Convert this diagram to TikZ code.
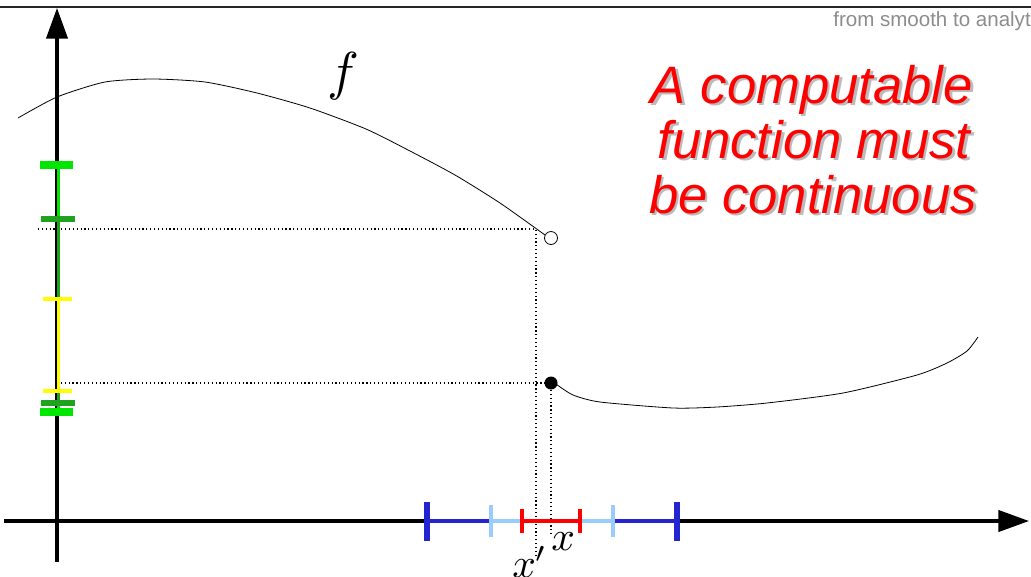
\documentclass[tikz,border=0pt]{standalone}
\usepackage{graphicx}
\usepackage{fontspec}
\newfontfamily\arialf{Liberation Sans}
\usetikzlibrary{arrows.meta}
\definecolor{brgreen}{HTML}{00E600}
\definecolor{dkgreen}{HTML}{1FA31F}
\definecolor{yel}{HTML}{FFFF00}
\definecolor{dkblue}{HTML}{2424D0}
\definecolor{ltblue}{HTML}{99CCFF}
\definecolor{shadowgrey}{HTML}{BBBBBB}
\tikzset{
  axisline/.style={line width=2.3pt, -{Triangle[length=23pt,width=16pt]}},
  fcurve/.style={line width=0.6pt},
  guide/.style={dotted, line width=0.9pt},
  bigtxt/.style={font=\arialf\itshape\fontsize{39.5}{41}\selectfont, anchor=base, inner sep=0},
  lbl/.style={inner sep=0, anchor=base west},
}
\newcommand{\shadowtext}[3]{%
  \node[bigtxt, text=shadowgrey] at ([xshift=2pt,yshift=-2pt]#1) {#3};
  \node[bigtxt, text=red] (#2) at (#1) {#3};}
\begin{document}
\begin{tikzpicture}[x=0.75pt,y=-0.75pt]
\useasboundingbox (0,0) rectangle (1031,576);

% header
\draw[line width=1.1pt, black!85] (0,7) -- (1031,7);
\node[inner sep=0, anchor=base east, text=black!45, font=\arialf\fontsize{15.4}{18}\selectfont] (hdr) at (1031,26) {from smooth to analyt};

% axes
\coordinate (yb) at (57,562);
\coordinate (yt) at (57,8);
\coordinate (xl) at (4,521);
\coordinate (xr) at (1029,521);
\draw[axisline] (yb) -- (yt);
\draw[axisline] (xl) -- (xr);

% dotted guides
\coordinate (g1a) at (38,229);
\coordinate (g1b) at (536,229);
\coordinate (g1c) at (536,558);
\coordinate (g2a) at (57,383);
\coordinate (g2b) at (545,383);
\coordinate (g2c) at (551,390);
\coordinate (g2d) at (551,536);
\draw[guide] (g1a) -- (g1b) -- (g1c);
\draw[guide] (g2a) -- (g2b);
\draw[guide] (g2c) -- (g2d);

% function f
\draw[fcurve] plot[smooth, tension=0.4] coordinates {(18,118) (57,97) (105,82) (153,79) (205,82) (257,93) (310,108) (366,129) (410,151) (455,175) (500,203) (545,235)};
\draw[fcurve] plot[smooth, tension=0.4] coordinates {(556,384) (573,395) (600,402) (673,408) (717,407) (767,403) (843,393) (917,375) (947,363) (967,351) (978,337)};
\node[circle, draw, line width=0.6pt, fill=white, minimum size=13pt*0.75, inner sep=0] (open) at (551,238) {};
\node[circle, fill=black, minimum size=13pt*0.75, inner sep=0] (closed) at (551,383) {};

% y-axis intervals
\draw[brgreen, line width=2.3pt] (58.5,165) -- (58.5,412);
\draw[dkgreen, line width=2.3pt] (58.5,219) -- (58.5,403);
\draw[yel, line width=2.3pt] (58.5,299) -- (58.5,391);
\draw[brgreen, line width=6pt] (40,165) -- (73,165);
\draw[brgreen, line width=6pt] (40,412) -- (73,412);
\draw[dkgreen, line width=5pt] (41,219) -- (75,219);
\draw[dkgreen, line width=5pt] (41,403) -- (75,403);
\draw[yel, line width=3pt] (43,299) -- (72,299);
\draw[yel, line width=3pt] (43,391) -- (72,391);

% x-axis intervals
\draw[dkblue, line width=3pt] (427,521) -- (677,521);
\draw[ltblue, line width=3pt] (491,521) -- (613,521);
\draw[red, line width=3pt] (522,521) -- (580,521);
\draw[dkblue, line width=4.5pt] (427,502) -- (427,541);
\draw[dkblue, line width=4.5pt] (677,502) -- (677,541);
\draw[ltblue, line width=3pt] (491,505) -- (491,537);
\draw[ltblue, line width=3pt] (613,505) -- (613,537);
\draw[red, line width=2.3pt] (522,509) -- (522,533);
\draw[red, line width=2.3pt] (580,509) -- (580,533);

% labels
\node[inner sep=0] (flbl) at (343,76) {\scalebox{4}{$f$}};
\node[lbl] (xp) at (512,577) {\scalebox{3.1}{$x'$}};
\node[lbl] (xx) at (551,550) {\scalebox{3.1}{$x$}};

% message
\shadowtext{812,103}{m1}{A computable}
\shadowtext{814,158}{m2}{function must}
\shadowtext{813,213}{m3}{be continuous}
\end{tikzpicture}
\end{document}
